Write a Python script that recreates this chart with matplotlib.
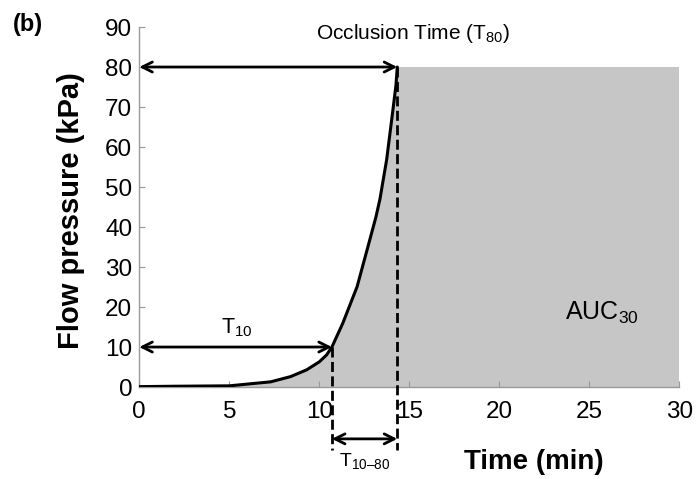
import matplotlib
matplotlib.use("Agg")
import matplotlib.pyplot as plt
import matplotlib.transforms as mtransforms

plt.rcParams['font.family'] = ['Liberation Sans', 'DejaVu Sans']
plt.rcParams['mathtext.fontset'] = 'custom'
plt.rcParams['mathtext.rm'] = 'Liberation Sans'
plt.rcParams['mathtext.it'] = 'Liberation Sans'
plt.rcParams['mathtext.bf'] = 'Liberation Sans:bold'

# Data
time = [0.0, 2.0, 5.0, 7.3, 8.4, 9.3, 10.0, 10.4, 10.7, 11.3, 12.1, 12.6, 12.9, 13.15,
        13.37, 13.55, 13.74, 14.02, 14.26, 14.33]
pressure = [0.1, 0.2, 0.3, 1.3, 2.6, 4.3, 6.3, 8.0, 10.0, 15.9, 25.1, 33.4, 38.4, 42.6,
            47.0, 51.8, 56.8, 66.8, 75.5, 80.0]
t10 = 10.7
t80 = 14.33
auc_end = 30
p10 = 10
p80 = 80
xticks = [0, 5, 10, 15, 20, 25, 30]
yticks = [0, 10, 20, 30, 40, 50, 60, 70, 80, 90]

fig = plt.figure(figsize=(6.96, 4.79), dpi=100)
ax = fig.add_axes([0.2001, 0.192, 0.776, 0.7516])

gray = '#c6c6c6'
ax.fill_between(time, 0, pressure, color=gray, linewidth=0)
ax.fill_between([t80, auc_end], 0, p80, color=gray, linewidth=0)
ax.plot(time, pressure, color='black', lw=2.2, solid_capstyle='round', solid_joinstyle='round', zorder=5)

ax.set_xlim(0, 30)
ax.set_ylim(0, 90)
ax.set_xticks(xticks)
ax.set_yticks(yticks)
ax.tick_params(direction='in', length=4, width=0.8, color='#999999', labelsize=17.5)
ax.tick_params(axis='x', pad=10)
ax.tick_params(axis='y', pad=5)
for s in ['top', 'right']:
    ax.spines[s].set_visible(False)
for s in ['left', 'bottom']:
    ax.spines[s].set_color('#999999')
    ax.spines[s].set_linewidth(1.0)

ax.set_xlabel('Time (min)', fontsize=20, fontweight='bold', va='center')
ax.xaxis.set_label_coords(0.73, -0.208)
ax.set_ylabel('Flow pressure (kPa)', fontsize=21, fontweight='bold')
ax.yaxis.set_label_coords(-0.10, 0.49)

arrow = dict(arrowstyle='<->', color='black', lw=2, mutation_scale=18, shrinkA=0, shrinkB=0)
ax.annotate('', xy=(0, p80), xytext=(t80, p80), arrowprops=arrow, zorder=6, annotation_clip=False)
ax.annotate('', xy=(0, p10), xytext=(t10, p10), arrowprops=arrow, zorder=6, annotation_clip=False)

trans = mtransforms.blended_transform_factory(ax.transData, ax.transAxes)
dash = (0, (3.6, 1.6))
ax.plot([t10, t10], [p10 / 90, -0.175], transform=trans, color='black', lw=2, ls=dash, clip_on=False, zorder=6)
ax.plot([t80, t80], [p80 / 90, -0.175], transform=trans, color='black', lw=2, ls=dash, clip_on=False, zorder=6)
ax.annotate('', xy=(t10, -0.144), xytext=(t80, -0.144), xycoords=trans, textcoords=trans,
            arrowprops=arrow, annotation_clip=False)

ax.text(5.4, 14.8, 'T$_{\\mathregular{10}}$', fontsize=15.5, ha='center', va='center')
ax.text(15.2, 88.5, 'Occlusion Time (T$_{\\mathregular{80}}$)', fontsize=15, ha='center', va='center')
ax.text(25.7, 18.5, 'AUC$_{\\mathregular{30}}$', fontsize=18, ha='center', va='center')
ax.text((t10 + t80) / 2, -0.205, 'T$_{\\mathregular{10\u201380}}$', transform=trans, fontsize=14,
        ha='center', va='center')

fig.text(0.04, 0.948, '(b)', fontsize=17, fontweight='bold', ha='center', va='center')

fig.savefig('out.png', dpi=100)
